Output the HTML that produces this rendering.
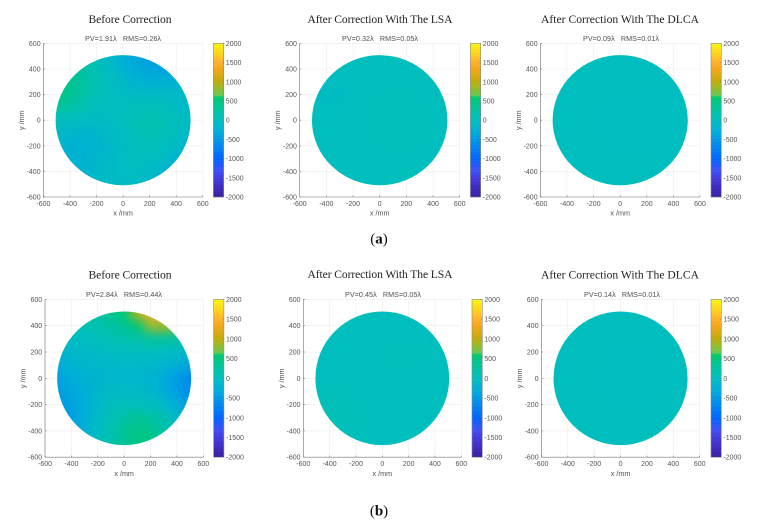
<!DOCTYPE html>
<html>
<head>
<meta charset="utf-8">
<title>Wavefront correction maps</title>
<style>
html,body{margin:0;padding:0;background:#fff;}
svg{display:block;}
.tick{font:7px "Liberation Sans",Arial,sans-serif;fill:#555;}
.label{font:7.2px "Liberation Sans",Arial,sans-serif;fill:#505050;}
.title{font:11.6px "Liberation Serif","DejaVu Serif",serif;fill:#222;}
.caption{font:15px "Liberation Serif","DejaVu Serif",serif;fill:#111;}
</style>
</head>
<body>
<svg id="figure" xmlns="http://www.w3.org/2000/svg" width="763" height="527" viewBox="0 0 763 527">
  <defs>
    <filter id="smooth" filterUnits="userSpaceOnUse" x="0" y="280" width="763" height="247" color-interpolation-filters="sRGB">
      <feGaussianBlur stdDeviation="5"/>
      <feComponentTransfer><feFuncA type="linear" slope="60"/></feComponentTransfer>
    </filter>
    <filter id="smoothTop" filterUnits="userSpaceOnUse" x="0" y="20" width="763" height="240" color-interpolation-filters="sRGB">
      <feGaussianBlur stdDeviation="5"/>
      <feComponentTransfer><feFuncA type="linear" slope="60"/></feComponentTransfer>
    </filter>
  </defs>
</svg>
<script>
// Axis tick labels and grid coordinates (mm)
const axisTicks = [-600,-400,-200,0,200,400,600];
const colorTicks = [-2000,-1500,-1000,-500,0,500,1000,1500,2000];
const gridX = [-500,-400,-300,-200,-100,0,100,200,300,400,500];
const gridY = [500,400,300,200,100,0,-100,-200,-300,-400,-500];

// Surface height values, rows top to bottom, columns left to right
const surfaceA1 = [
[250,220,150,40,-100,-250,-380,-430,-430,-430,-400],
[340,320,220,80,-40,-180,-300,-380,-380,-350,-330],
[430,400,270,130,30,-80,-180,-230,-230,-220,-220],
[450,380,220,100,30,-20,-50,-50,-50,-80,-150],
[280,220,110,30,0,20,50,70,60,-10,-110],
[30,20,-20,-40,-20,30,90,150,130,40,-80],
[-80,-130,-160,-130,-70,0,80,130,100,10,-110],
[-150,-200,-220,-170,-90,-15,40,60,30,-60,-190],
[-190,-220,-200,-150,-70,-20,15,10,-40,-190,-310],
[-220,-220,-150,-90,-50,-30,-20,-60,-150,-310,-400],
[-220,-190,-110,-60,-40,-30,-40,-110,-230,-400,-450]];
const surfaceA2 = [
[20,20,25,25,30,30,30,25,25,20,20],
[10,10,20,25,30,30,30,30,25,20,20],
[0,-20,-10,20,30,35,35,35,30,25,20],
[-10,-40,-30,10,30,35,40,40,35,25,20],
[10,-10,0,20,30,40,45,45,40,30,25],
[25,20,25,30,35,40,45,50,45,35,30],
[25,25,30,30,35,40,45,45,40,35,30],
[25,25,30,30,35,35,40,40,35,30,30],
[25,25,30,30,30,35,35,35,30,30,25],
[20,25,25,30,30,30,30,30,30,25,25],
[20,25,25,25,30,30,30,30,25,25,25]];
const surfaceA3 = [
[15,15,15,20,20,25,25,20,15,15,15],
[15,15,20,20,20,25,25,20,15,15,15],
[15,15,15,20,20,20,20,15,15,15,15],
[15,15,15,15,15,15,15,10,10,10,10],
[15,15,15,15,10,10,5,5,5,5,10],
[15,15,15,15,10,5,0,0,0,5,10],
[15,15,15,15,10,5,0,0,5,5,10],
[15,15,15,15,15,10,10,10,10,10,15],
[15,15,15,15,15,15,15,15,15,15,15],
[15,15,15,15,20,20,20,20,20,15,15],
[15,15,15,20,20,20,20,20,20,15,15]];
const surfaceB1 = [
[100,100,150,250,400,550,950,1500,1500,1200,1000],
[50,50,100,150,250,350,550,800,850,700,600],
[-80,-50,0,50,100,150,200,280,280,200,150],
[-180,-110,-70,-50,-20,0,20,30,20,-50,-150],
[-300,-180,-130,-110,-90,-90,-90,-110,-160,-260,-380],
[-400,-300,-210,-160,-120,-120,-140,-190,-300,-480,-650],
[-430,-350,-240,-130,-60,-50,-70,-130,-260,-450,-620],
[-470,-400,-250,-90,20,50,50,20,-90,-290,-480],
[-480,-430,-250,-70,100,230,320,270,130,-80,-280],
[-480,-400,-210,-40,160,340,460,410,250,80,-80],
[-450,-360,-170,0,180,360,480,430,300,120,0]];
const surfaceB2 = [
[30,30,30,30,25,25,25,25,25,25,25],
[30,30,30,25,25,25,25,25,25,25,25],
[25,25,25,25,25,30,35,35,30,25,25],
[20,20,20,20,25,35,40,45,40,30,25],
[20,20,20,20,25,30,35,40,35,25,20],
[30,25,20,20,20,25,25,25,20,15,15],
[50,45,40,25,20,20,20,20,15,15,15],
[80,85,80,50,25,20,20,20,20,15,15],
[80,95,90,60,35,25,25,25,25,20,20],
[60,70,70,50,35,30,30,30,25,25,25],
[50,50,50,40,35,30,30,30,30,25,25]];
const surfaceB3 = [
[20,20,20,20,20,20,20,20,20,20,20],
[20,20,20,20,20,20,20,20,20,20,20],
[20,20,20,20,15,15,15,15,15,15,20],
[20,20,20,15,15,10,10,10,15,15,20],
[20,20,15,15,10,10,5,5,10,15,15],
[20,20,15,15,10,5,5,5,10,10,15],
[20,20,15,15,10,10,5,5,10,15,15],
[20,20,20,15,15,10,10,10,15,15,20],
[20,20,20,20,15,15,15,15,15,20,20],
[20,20,20,20,20,20,20,20,20,20,20],
[20,20,20,20,20,20,20,20,20,20,20]];

// Panel titles and printed statistics
const titleA1 = "Before Correction", titleA2 = "After Correction With The LSA", titleA3 = "After Correction With The DLCA";
const statsA1 = "PV=1.91λ\u00a0\u00a0\u00a0RMS=0.26λ";
const statsA2 = "PV=0.32λ\u00a0\u00a0\u00a0RMS=0.05λ";
const statsA3 = "PV=0.09λ\u00a0\u00a0\u00a0RMS=0.01λ";
const statsB1 = "PV=2.84λ\u00a0\u00a0\u00a0RMS=0.44λ";
const statsB2 = "PV=0.45λ\u00a0\u00a0\u00a0RMS=0.05λ";
const statsB3 = "PV=0.14λ\u00a0\u00a0\u00a0RMS=0.01λ";

const colormap = [
[-2000,58,28,158],[-1500,66,58,222],[-1300,62,80,245],[-1000,0,100,255],
[-600,0,142,235],[-300,0,172,218],[0,0,190,192],[300,0,195,158],[600,0,200,110],
[650,100,200,80],[800,140,190,50],[1000,190,172,10],[1300,240,165,20],
[1500,255,175,45],[1700,255,205,30],[2000,250,245,15]];

const svg = document.getElementById('figure');
const NS = 'http://www.w3.org/2000/svg';

function colorOf(v){
  if(v<=colormap[0][0]) v=colormap[0][0];
  if(v>=2000) v=2000;
  for(let i=1;i<colormap.length;i++){
    const a=colormap[i-1],b=colormap[i];
    if(v<=b[0]){
      const t=(v-a[0])/(b[0]-a[0]);
      return 'rgb('+[1,2,3].map(k=>Math.round(a[k]+(b[k]-a[k])*t)).join(',')+')';
    }
  }
  return 'rgb(250,245,15)';
}
function make(parent,tag,attrs,name,text){
  const el=document.createElementNS(NS,tag);
  for(const k in attrs) el.setAttribute(k,attrs[k]);
  
  
  if(text!==undefined) el.textContent=text;
  parent.appendChild(el);
  return el;
}

function drawPanel(p){
  const g=make(svg,'g',{},p.id+'-panel');
  const sx=v=>p.left+(v+600)/1200*(p.right-p.left);
  const sy=v=>p.bottom-(v+600)/1200*(p.bottom-p.top);
  const cy=v=>p.bottom-(v+2000)/4000*(p.bottom-p.top);

  make(g,'text',{x:p.titleX,y:p.titleY,'text-anchor':'middle',class:'title',textLength:p.titleW,lengthAdjust:'spacing'},p.id+'-title',p.title);
  make(g,'text',{x:p.statsX,y:p.top-2.4,'text-anchor':'middle',class:'label',textLength:76,lengthAdjust:'spacing'},p.id+'-statistics',p.stats);

  const grid=make(g,'g',{stroke:'#ececec','stroke-width':0.6,fill:'none'},p.id+'-gridlines');
  axisTicks.forEach(t=>{
    make(grid,'line',{x1:sx(t),x2:sx(t),y1:p.top,y2:p.bottom},p.id+'-vertical-gridline');
    make(grid,'line',{x1:p.left,x2:p.right,y1:sy(t),y2:sy(t)},p.id+'-horizontal-gridline');
  });

  const clipId=p.id+'-clip';
  const clip=make(svg.querySelector('defs'),'clipPath',{id:clipId},p.id+'-clip-path');
  make(clip,'ellipse',{cx:sx(0),cy:sy(0),rx:sx(508)-sx(0),ry:sy(0)-sy(508)},p.id+'-clip-shape');
  const outer=make(g,'g',{'clip-path':'url(#'+clipId+')'},p.id+'-surface');
  const cells=make(outer,'g',{filter:'url(#'+p.filter+')'},p.id+'-surface-cells');
  p.data.forEach((row,r)=>row.forEach((v,c)=>{
    const x0=sx(gridX[c]-50),x1=sx(gridX[c]+50),y0=sy(gridY[r]+50),y1=sy(gridY[r]-50);
    make(cells,'rect',{x:x0,y:y0,width:x1-x0+0.3,height:y1-y0+0.3,fill:colorOf(v)},p.id+'-cell');
  }));

  const axes=make(g,'g',{stroke:'#777','stroke-width':0.6,fill:'none'},p.id+'-axes');
  make(axes,'path',{d:'M'+p.left+' '+p.top+'V'+p.bottom+'H'+p.right},p.id+'-axis-lines');
  axisTicks.forEach(t=>{
    make(axes,'line',{x1:sx(t),x2:sx(t),y1:p.bottom,y2:p.bottom-1.6},p.id+'-x-tick');
    make(axes,'line',{x1:p.left,x2:p.left+1.6,y1:sy(t),y2:sy(t)},p.id+'-y-tick');
    make(g,'text',{x:sx(t),y:p.bottom+9,'text-anchor':'middle',class:'tick'},p.id+'-x-tick-label',String(t));
    make(g,'text',{x:p.left-2.8,y:sy(t)+2.5,'text-anchor':'end',class:'tick'},p.id+'-y-tick-label',String(t));
  });
  make(g,'text',{x:(p.left+p.right)/2,y:p.bottom+18.6,'text-anchor':'middle',class:'label'},p.id+'-x-axis-title','x /mm');
  make(g,'text',{transform:'translate('+(p.left-19.5)+' '+((p.top+p.bottom)/2)+') rotate(-90)','text-anchor':'middle',class:'label'},p.id+'-y-axis-title','y /mm');

  const bar=make(g,'g',{},p.id+'-colorbar');
  for(let v=-2000;v<2000;v+=20){
    const y=cy(v+20);
    make(bar,'rect',{x:p.bar,y:y,width:10.3,height:cy(v)-y+0.25,fill:colorOf(v+10)},p.id+'-colorbar-step');
  }
  make(bar,'rect',{x:p.bar,y:p.top,width:10.3,height:p.bottom-p.top,fill:'none',stroke:'#8a8a8a','stroke-width':0.6},p.id+'-colorbar-frame');
  colorTicks.forEach(t=>{
    make(bar,'line',{x1:p.bar+8.9,x2:p.bar+10.3,y1:cy(t),y2:cy(t),stroke:'#777','stroke-width':0.5},p.id+'-colorbar-tick');
    make(g,'text',{x:p.bar+12.4,y:cy(t)+2.5,class:'tick'},p.id+'-colorbar-label',String(t));
  });
}

const topRow={top:43.4,bottom:197,filter:'smoothTop',titleY:23.2};
const botRow={top:299.4,bottom:457.2,filter:'smooth'};
[
 {...topRow,id:'a1',left:43.4,right:202.8,bar:213.4,title:titleA1,stats:statsA1,data:surfaceA1,titleX:130,titleW:83,statsX:123},
 {...topRow,id:'a2',left:299.7,right:459.7,bar:470.4,title:titleA2,stats:statsA2,data:surfaceA2,titleX:380,titleW:145,statsX:380},
 {...topRow,id:'a3',left:540.4,right:700,bar:711,title:titleA3,stats:statsA3,data:surfaceA3,titleX:620,titleW:158,statsX:621},
 {...botRow,titleY:278.6,id:'b1',left:45,right:203.3,bar:213.6,title:titleA1,stats:statsB1,data:surfaceB1,titleX:130,titleW:83,statsX:124},
 {...botRow,titleY:278,id:'b2',left:303.3,right:461.3,bar:472,title:titleA2,stats:statsB2,data:surfaceB2,titleX:380,titleW:145,statsX:383},
 {...botRow,titleY:278.6,id:'b3',left:541.4,right:699.7,bar:711,title:titleA3,stats:statsB3,data:surfaceB3,titleX:620,titleW:158,statsX:622}
].forEach(drawPanel);

const capA=make(svg,'text',{x:379,y:243.5,'text-anchor':'middle',class:'caption'},'caption-a');
capA.innerHTML='(<tspan font-weight="bold">a</tspan>)';
const capB=make(svg,'text',{x:379,y:515.5,'text-anchor':'middle',class:'caption'},'caption-b');
capB.innerHTML='(<tspan font-weight="bold">b</tspan>)';
</script>
</body>
</html>
